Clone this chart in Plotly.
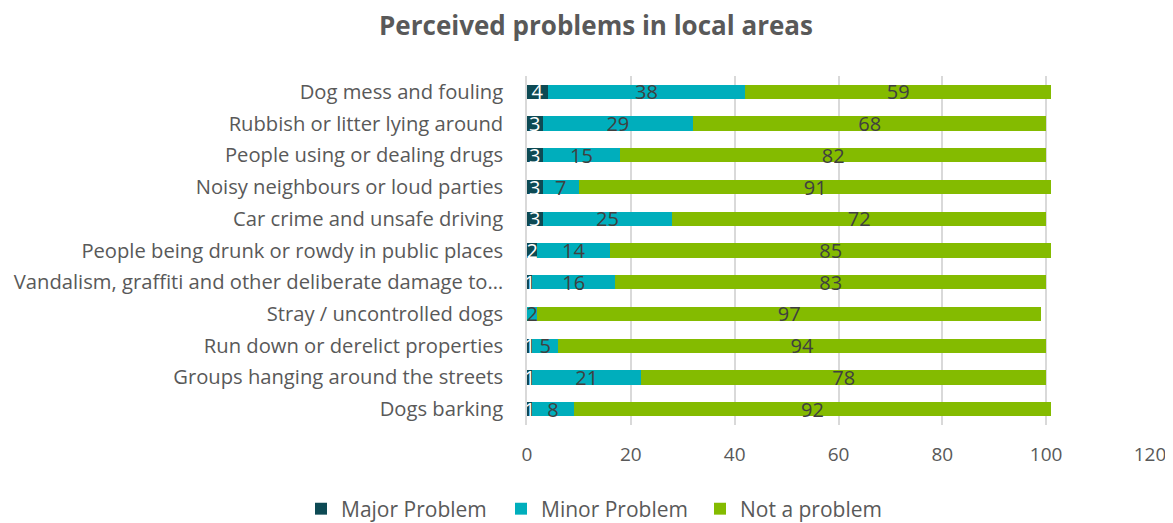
import plotly.graph_objects as go

categories = [
    "Dog mess and fouling",
    "Rubbish or litter lying around",
    "People using or dealing drugs",
    "Noisy neighbours or loud parties",
    "Car crime and unsafe driving",
    "People being drunk or rowdy in public places",
    "Vandalism, graffiti and other deliberate damage to…",
    "Stray / uncontrolled dogs",
    "Run down or derelict properties",
    "Groups hanging around the streets",
    "Dogs barking",
]
major = [4, 3, 3, 3, 3, 2, 1, 0, 1, 1, 1]
minor = [38, 29, 15, 7, 25, 14, 16, 2, 5, 21, 8]
not_problem = [59, 68, 82, 91, 72, 85, 83, 97, 94, 78, 92]
x_ticks = [0, 20, 40, 60, 80, 100, 120]

FONT = "Open Sans"
GREY = "#595959"

series = [
    ("Major Problem", major, "#0d4a54", "white", "legend"),
    ("Minor Problem", minor, "#00aebc", "#404040", "legend2"),
    ("Not a problem", not_problem, "#84bb00", "#404040", "legend3"),
]

fig = go.Figure()
for name, vals, color, tcol, leg in series:
    fig.add_trace(go.Bar(
        name=name, y=categories, x=vals, orientation="h",
        marker=dict(color=color, line=dict(width=0)),
        text=[str(v) if v else "" for v in vals],
        textposition="inside", insidetextanchor="middle", textangle=0,
        textfont=dict(family=FONT, size=20, color=tcol),
        width=0.45, legend=leg,
    ))

W, H = 1165, 515


def leg(xpix):
    return dict(orientation="h", xref="container", yref="container",
                x=xpix / W, xanchor="left", y=(H - 501) / H, yanchor="middle",
                font=dict(size=21, color=GREY), bgcolor="rgba(0,0,0,0)")


fig.update_layout(
    barmode="stack",
    width=W, height=H,
    margin=dict(l=519, r=23, t=68, b=98),
    paper_bgcolor="white", plot_bgcolor="white",
    font=dict(family=FONT, color=GREY, size=19),
    uniformtext=dict(mode="show", minsize=20),
    title=dict(text="<b>Perceived problems in local areas</b>", x=588 / W, xanchor="center",
               xref="container", yref="container", y=1 - 18 / H, yanchor="middle",
               font=dict(family=FONT, size=26, color=GREY)),
    xaxis=dict(range=[0, 120], tickvals=x_ticks, showgrid=True, gridcolor="#d9d9d9",
               gridwidth=1.5, zeroline=False, ticks="", tickfont=dict(size=19, color=GREY),
               showline=False, ticklabelstandoff=16, ticklabeloverflow="allow", automargin=False),
    yaxis=dict(autorange="reversed", showgrid=False, ticks="", ticklabelstandoff=18,
               tickfont=dict(size=20.2, color=GREY), showline=True, linecolor="#d9d9d9",
               linewidth=1.5, automargin=False),
    legend=leg(293),
    legend2=leg(493),
    legend3=leg(692),
    showlegend=True,
)

fig.write_html("out.html")
